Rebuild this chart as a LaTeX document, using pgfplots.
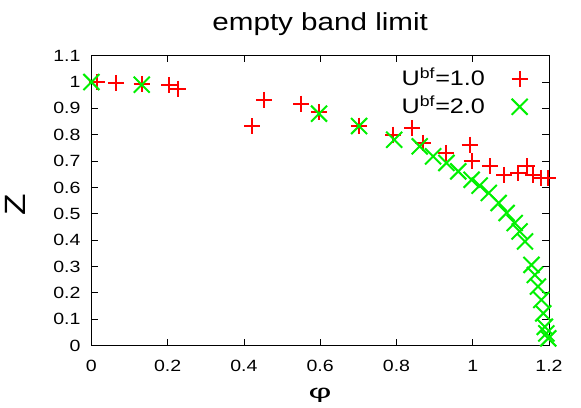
\documentclass[border=0pt]{standalone}
\usepackage{fontspec}
\setmainfont{Liberation Sans}[FakeStretch=1.2]
\usepackage{graphicx}
\usepackage{pgfplots}
\pgfplotsset{compat=1.18}
\definecolor{gpred}{RGB}{255,0,0}
\definecolor{gpgreen}{RGB}{0,240,0}
\begin{document}
\begin{tikzpicture}
\begin{axis}[
  scale only axis, width=343.2pt, height=217.35pt,
  xmin=0, xmax=1.2, ymin=0, ymax=1.1,
  xtick={0,0.2,0.4,0.6,0.8,1,1.2},
  ytick={0,0.1,0.2,0.3,0.4,0.5,0.6,0.7,0.8,0.9,1,1.1},
  xticklabels={0,0.2,0.4,0.6,0.8,1,1.2},
  yticklabels={0,0.1,0.2,0.3,0.4,0.5,0.6,0.7,0.8,0.9,1,1.1},
  tick align=inside, major tick length=5pt,
  every tick/.style={black, line width=0.6pt},
  axis line style={line width=0.75pt},
  tick label style={font=\fontsize{12.2}{14}\selectfont},
  xticklabel style={inner sep=0pt, anchor=center, yshift=-15pt},
  yticklabel style={inner sep=0pt, anchor=east, xshift=-8pt},
  title={empty band limit},
  title style={font=\fontsize{18.5}{22}\selectfont, at={(rel axis cs:0.5,1)}, anchor=center, yshift=18pt},
  xlabel={\scalebox{1.3}[0.85]{φ}}, ylabel={Z},
  every axis x label/.style={at={(rel axis cs:0.5,0)}, anchor=center, yshift=-37pt, font=\fontsize{17}{20}\selectfont},
  every axis y label/.style={at={(rel axis cs:0,0.5)}, xshift=-57pt, yshift=-3pt, rotate=90, anchor=center, font=\fontsize{22}{26}\selectfont},
  legend plot pos=right, legend cell align=right,
  legend image code/.code={\path[draw=none] (0pt,0pt) -- (48pt,0pt); \draw[#1] plot coordinates {(26pt,0pt)};},
  legend style={at={(rel axis cs:1,1)}, anchor=north east, yshift=-9.3pt, draw=none, fill=none,
    inner sep=0pt, outer sep=0pt, nodes={inner sep=0pt, text height=13pt, text depth=3pt},
    row sep=5pt, font=\fontsize{15.75}{18}\selectfont},
]
\addplot[only marks, mark=+, mark size=6pt, line width=1.5pt, color=gpred] coordinates {
(0.014,1.0) (0.064,0.997) (0.132,0.993) (0.204,0.987) (0.228,0.975)
(0.422,0.832) (0.452,0.932) (0.550,0.918) (0.597,0.885) (0.702,0.835)
(0.791,0.800) (0.841,0.826) (0.870,0.769) (0.931,0.731) (0.992,0.762)
(0.997,0.699) (1.045,0.680) (1.082,0.648) (1.119,0.655) (1.141,0.680)
(1.158,0.648) (1.178,0.636) (1.198,0.636)
};
\addlegendentry{U\textsuperscript{bf}=1.0}
\addplot[only marks, mark=x, mark size=8.5pt, line width=1.5pt, color=gpgreen] coordinates {
(0.0,1.0) (0.132,0.990) (0.597,0.880) (0.702,0.833) (0.794,0.781)
(0.861,0.756) (0.896,0.718) (0.931,0.693) (0.962,0.661) (0.997,0.629)
(1.018,0.607) (1.042,0.579) (1.068,0.541) (1.089,0.503) (1.110,0.465)
(1.123,0.433) (1.137,0.395) (1.154,0.306) (1.163,0.268) (1.171,0.224)
(1.180,0.173) (1.185,0.122) (1.189,0.071) (1.193,0.046) (1.198,0.027)
};
\addlegendentry{U\textsuperscript{bf}=2.0}
\end{axis}
\pgfresetboundingbox
\path (current axis.south west) ++(-68.55pt,-46.125pt) rectangle ++(435.75pt,305.25pt);
\end{tikzpicture}
\end{document}
